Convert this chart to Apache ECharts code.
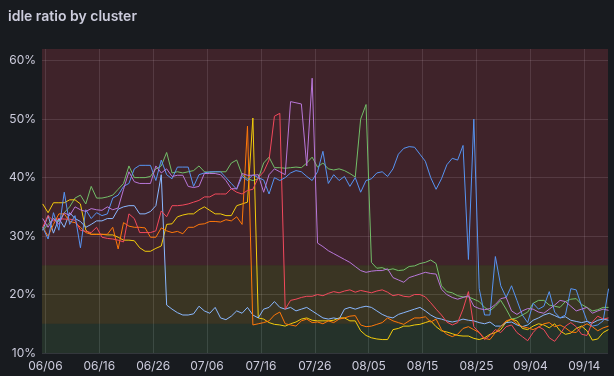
<!DOCTYPE html>
<html>
<head>
<meta charset="utf-8">
<title>idle ratio by cluster</title>
<script src="https://cdn.jsdelivr.net/npm/echarts@6/dist/echarts.min.js"></script>
<style>
  html, body { margin: 0; padding: 0; background: #181b1f; }
  #topline { position: absolute; left: 0; top: 0; width: 614px; height: 1px; background: #2c3035; }
  #chart { width: 614px; height: 376px; }
</style>
</head>
<body>
<div id="topline"></div>
<div id="chart"></div>
<script>
// x = days since 06/06, one sample per day (noon), first sample 06/05
const tickDays = [0, 10, 20, 30, 40, 50, 60, 70, 80, 90, 100];
const tickLabels = ["06/06", "06/16", "06/26", "07/06", "07/16", "07/26", "08/05", "08/15", "08/25", "09/04", "09/14"];

// threshold bands (%): green < 15 <= yellow < 25 <= red
const thresholds = [10, 15, 25, 62];

const green = [
  31, 32, 33, 32.5, 34, 35, 36.5, 37, 35.5, 38.5,
  36.5, 36.5, 36.7, 37, 38, 39, 42, 40, 40, 40,
  40.2, 41.5, 42, 44.3, 40.8, 41, 40.8, 41, 41.2, 42,
  41, 40.9, 41, 41, 41, 42.5, 43, 40.5, 39.8, 39.5,
  39.8, 42.5, 43.5, 41.7, 41.7, 41.6, 41.7, 41.8, 41.7, 42.5,
  43.5, 41.8, 42.5, 41.5, 41.3, 41.5, 41.2, 40.7, 40.1, 50,
  52.5, 25.5, 24.5, 24.6, 24.2, 24.4, 24.1, 24.2, 24.8, 24.9,
  25.3, 25.5, 25.9, 25.3, 21.5, 20.5, 20.3, 19.8, 19.6, 19.6,
  19.2, 18.8, 17.8, 17.2, 18, 19, 17.5, 15.8, 16, 16.5,
  17, 18.5, 19, 19, 18.2, 18, 17.8, 18.8, 19.2, 19.3,
  18.3, 17.8, 17.2, 17.4, 17.8, 17.8
];
const yellow = [
  35.5, 34, 35.7, 35.7, 35.7, 36.2, 36.2, 35.5, 31, 30.3,
  30.3, 30.3, 30.2, 30.2, 29.8, 29.3, 29.3, 29.2, 28, 27.4,
  27.4, 27.9, 28.3, 32, 32.1, 33.3, 33.6, 33.8, 33.8, 34.5,
  35, 34.4, 33.8, 33.8, 33.5, 33.5, 35.2, 35.5, 35.8, 50.2,
  16, 15.8, 15.2, 14.9, 14.8, 14.6, 15, 15.3, 15.8, 16,
  15.6, 15.5, 15.5, 15.5, 15.6, 16, 16, 15.5, 15.5, 13.8,
  13, 12.6, 12.4, 12.3, 12.3, 14, 14.2, 14.6, 14.6, 14.8,
  14.9, 15.2, 15.5, 14.5, 13.8, 13.6, 13.3, 13, 12.9, 12.9,
  12.5, 12.3, 12.6, 13.2, 13.5, 14, 15.3, 15.8, 15.5, 14.2,
  14, 14.6, 15, 14.8, 14.3, 15, 13.8, 13.2, 13.4, 14.2,
  14.6, 13.8, 12.2, 12.4, 13.5, 14
];
const lightBlue = [
  31, 33.5, 30.5, 33, 31.5, 34, 33, 32.5, 31.5, 32,
  32.6, 32.6, 33, 33, 34.6, 35, 35.2, 35.2, 33.8, 33.8,
  34.2, 35.2, 40.5, 18.2, 17.5, 16.9, 16.5, 16.5, 16.7, 18,
  17.2, 16.8, 17.8, 16, 15.7, 16.3, 17.2, 16.8, 17.8, 16.5,
  16, 17.5, 17.8, 18.8, 17.8, 17.5, 17.8, 17.2, 17.5, 17.8,
  17.2, 16.6, 16, 15.8, 16, 15.8, 17.5, 17.8, 17.5, 17.8,
  18, 17.8, 17.2, 16.6, 16.2, 16, 16.6, 16.9, 17.2, 17.5,
  17.8, 17.2, 16.5, 16, 15.8, 15.5, 15.3, 15.5, 15.8, 15.6,
  15.5, 15.2, 15, 15.3, 14.6, 14.6, 15.2, 15.3, 14.8, 14.5,
  14.8, 15.6, 16, 16.5, 16.8, 16.4, 16, 16.2, 15.6, 15.4,
  15.2, 15.4, 15.1, 15.6, 15.8, 15.6
];
const orange = [
  31.5, 30, 32, 33.8, 33.8, 32.5, 32.3, 31.5, 30.6, 30.3,
  30.3, 30.3, 30.3, 31.5, 27.8, 32.3, 31.7, 31.5, 31.5, 31.4,
  29.8, 29.8, 31.4, 30.9, 30.6, 30.8, 30.4, 31.5, 31.5, 32,
  32.1, 32.5, 32.5, 32.4, 32.8, 32.6, 33.3, 32, 48.8, 14.8,
  15, 15.2, 15.5, 16.5, 17, 15, 14.8, 14.6, 15.5, 15.8,
  15.2, 15.3, 15, 15.5, 15.2, 15.8, 16, 16.3, 16.4, 14.8,
  14.5, 14.6, 14.9, 15.2, 16, 15.5, 15.2, 14.9, 15.5, 16,
  16, 16.2, 15.3, 15.8, 14, 13.2, 12.8, 13.2, 14.2, 14.5,
  14, 13.5, 12.5, 12.3, 13.5, 14.5, 15.5, 15.8, 15, 14.5,
  14.3, 14, 14.4, 15, 15.2, 14.5, 14.8, 14.3, 13.6, 13.5,
  14.5, 15, 14.5, 13.8, 14.3, 14.6
];
const red = [
  31.5, 33.5, 32.6, 33, 32.9, 32.9, 32.7, 31, 30.8, 30.6,
  31.5, 29.8, 29.6, 29.5, 29.3, 29, 33.8, 33, 30.6, 30.6,
  30.6, 30.9, 34.3, 33.3, 35.2, 35.2, 35.3, 35.5, 35.8, 36.1,
  36.7, 36.7, 37.2, 37.2, 37.2, 38.1, 37.5, 37.2, 37.8, 38,
  40, 41, 43, 50.5, 51, 17.5, 19, 19.2, 19.5, 19.7,
  19.7, 20, 19.8, 20.2, 20.5, 20.3, 20.6, 20.8, 20.4, 20.7,
  20.5, 20.3, 20.6, 20.8, 20.4, 19.8, 20, 19.7, 19.6, 20,
  20, 19.6, 18.6, 17.5, 16.5, 15.3, 14.8, 15.2, 17.5, 20.5,
  14.5, 13.5, 12.3, 13, 14, 13.5, 14.5, 14.8, 13.5, 12.8,
  12.1, 13.5, 14.5, 14, 12.6, 12, 13.2, 14.6, 15.2, 14.5,
  13.2, 13, 15.3, 16.3, 15.8, 16
];
const blue = [
  31.5, 29.5, 34, 31, 37.5, 32, 33.5, 28, 34.5, 33,
  34, 33.5, 33.8, 36.5, 37, 38.5, 39, 41.5, 42.1, 42.1,
  42.1, 39.5, 43, 40.5, 39.8, 41.8, 41.8, 41.8, 38.5, 40.5,
  40.8, 41, 41, 41, 40, 39, 38, 40.2, 39.5, 40.5,
  40, 39.6, 37.2, 40, 39.5, 40, 40.8, 41.2, 41, 40.2,
  39.5, 41, 44.5, 39, 40.5, 39.5, 40.2, 38.5, 40, 37.5,
  39.5, 39.8, 40.8, 41, 40.2, 41.5, 44, 45, 45.3, 45.2,
  44, 42.8, 40, 38, 39.8, 42.2, 43.3, 43, 45.5, 26,
  50, 21, 16.5, 16.5, 26.5, 21.5, 19.5, 21.5, 19, 16.5,
  15.2, 18.5, 17.5, 18, 20.5, 17, 16, 16.5, 21, 20.8,
  18, 15.5, 14.6, 14.8, 15.5, 21
];
const purple = [
  33, 31.5, 33, 32, 34, 33.5, 35, 34.5, 34.2, 34.7,
  34.5, 34.4, 35, 34.5, 34.8, 38, 41, 39.3, 39, 39,
  39, 42, 40.8, 41.5, 40.2, 40.4, 40.4, 38.5, 38.3, 38.5,
  40.7, 40.7, 40.7, 40.5, 39.5, 38.1, 38.1, 40.7, 40.4, 40.4,
  40.5, 37.5, 40.5, 41.5, 41, 40.5, 53, 52.8, 52.6, 42,
  57, 28.8, 28.2, 27.5, 27, 26.5, 26, 25.5, 24.8, 24.1,
  23.8, 24, 24.1, 24.1, 24.4, 22.9, 22.5, 22.1, 22.9, 23.2,
  23.5, 23.8, 23.6, 23.5, 20.9, 20, 19.5, 19.2, 19.5, 19.8,
  18, 17.6, 17.4, 17.6, 18.3, 19.3, 19.5, 17.2, 16.6, 17.2,
  17.6, 17.5, 17, 16.8, 17.5, 18.2, 19, 18.8, 18, 17.2,
  17.5, 17.8, 16.8, 17.2, 17.5, 17.3
];

const clusters = [
  { name: "cluster-1", color: "#73BF69", values: green },
  { name: "cluster-2", color: "#F2CC0C", values: yellow },
  { name: "cluster-3", color: "#8AB8FF", values: lightBlue },
  { name: "cluster-4", color: "#FF780A", values: orange },
  { name: "cluster-5", color: "#F2495C", values: red },
  { name: "cluster-6", color: "#5794F2", values: blue },
  { name: "cluster-7", color: "#B877D9", values: purple },
];

const textColor = "#ccccdc";
const gridColor = "rgba(240, 250, 255, 0.13)";

const chart = echarts.init(document.getElementById("chart"));

const option = {
  backgroundColor: "#181b1f",
  animation: false,
  textStyle: { fontFamily: "Inter" },
  title: {
    text: "idle ratio by cluster",
    left: 8,
    top: 10,
    padding: 0,
    textStyle: { color: textColor, fontSize: 14, fontWeight: 600, fontFamily: "Inter" },
  },
  grid: { left: 42, right: 6, top: 49, bottom: 23, containLabel: false },
  xAxis: {
    type: "value",
    min: -0.63,
    max: 104.4,
    axisLine: { show: false },
    axisTick: { show: false, customValues: tickDays },
    axisLabel: {
      customValues: tickDays,
      color: textColor,
      fontSize: 12,
      margin: 7,
      formatter: (v) => tickLabels[tickDays.indexOf(v)] || "",
    },
    splitLine: { show: true, lineStyle: { color: gridColor, width: 1 } },
  },
  yAxis: {
    type: "value",
    min: 10,
    max: 62,
    interval: 10,
    axisLine: { show: false },
    axisTick: { show: false },
    axisLabel: {
      color: textColor,
      fontSize: 12,
      margin: 6,
      showMaxLabel: false,
      formatter: "{value}%",
    },
    splitLine: { show: true, showMaxLine: false, lineStyle: { color: gridColor, width: 1 } },
  },
  series: [
    {
      name: "thresholds",
      type: "line",
      z: -1,
      silent: true,
      data: [],
      markArea: {
        silent: true,
        data: [
          [{ yAxis: thresholds[2], itemStyle: { color: "rgba(242, 73, 92, 0.18)" } }, { yAxis: thresholds[3] }],
          [{ yAxis: thresholds[1], itemStyle: { color: "rgba(234, 184, 57, 0.17)" } }, { yAxis: thresholds[2] }],
          [{ yAxis: thresholds[0], itemStyle: { color: "rgba(115, 191, 105, 0.15)" } }, { yAxis: thresholds[1] }],
        ],
      },
    },
    ...clusters.map((c) => ({
      name: c.name,
      type: "line",
      showSymbol: false,
      clip: true,
      lineStyle: { color: c.color, width: 1 },
      itemStyle: { color: c.color },
      data: c.values.map((v, i) => [i - 0.5, v]),
    })),
  ],
};

chart.setOption(option);
</script>
</body>
</html>
